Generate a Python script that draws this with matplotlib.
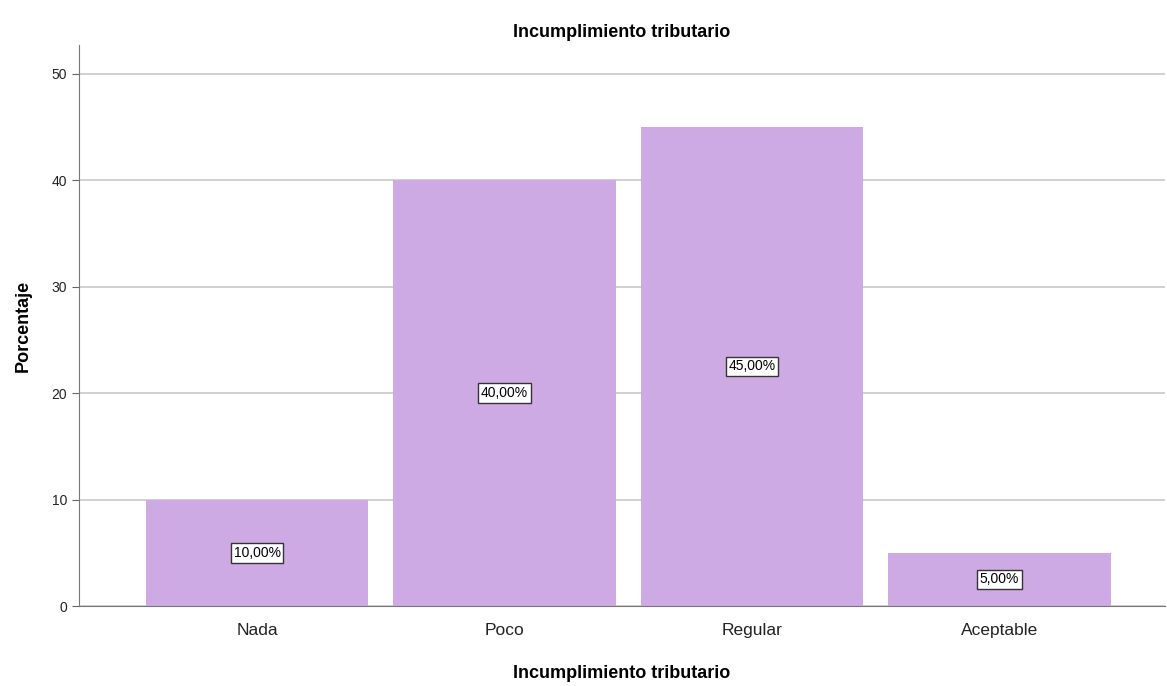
import matplotlib
matplotlib.use("Agg")
import matplotlib.pyplot as plt

categories = ["Nada", "Poco", "Regular", "Aceptable"]
percentages = [10.0, 40.0, 45.0, 5.0]
yticks = [0, 10, 20, 30, 40, 50]

plt.rcParams["font.family"] = ["Liberation Sans", "DejaVu Sans"]

fig = plt.figure(figsize=(11.67, 6.86), dpi=100)
ax = fig.add_axes([79 / 1167, 1 - 606 / 686, (1165 - 79) / 1167, (606 - 45) / 686])

x = range(len(categories))
ax.bar(x, percentages, width=0.9, color="#CEAAE4", zorder=2)

for xi, v in zip(x, percentages):
    label = f"{v:.2f}%".replace(".", ",")
    ax.text(xi, v / 2, label, ha="center", va="center", fontsize=10, zorder=3,
            bbox=dict(boxstyle="square,pad=0.2", fc="white", ec="#333333", lw=1))

ax.set_xlim(-0.72, 3.67)
ax.set_ylim(0, 52.7)
ax.set_yticks(yticks)
ax.set_xticks(list(x))
ax.set_xticklabels(categories, fontsize=12.5, color="#222222")
ax.tick_params(axis="y", labelsize=10, length=5, color="#666666", labelcolor="#222222")
ax.tick_params(axis="x", length=0, pad=12)
ax.yaxis.grid(True, color="#C8C8C8", lw=1.2, zorder=0)

for s in ["top", "right"]:
    ax.spines[s].set_visible(False)
ax.spines["left"].set_color("#777777")
ax.spines["bottom"].set_color("#777777")

ax.set_title("Incumplimiento tributario", fontsize=13, fontweight="bold", pad=6)
ax.set_xlabel("Incumplimiento tributario", fontsize=13, fontweight="bold", labelpad=20)
ax.set_ylabel("Porcentaje", fontsize=13, fontweight="bold", labelpad=14)

fig.savefig("out.png", dpi=100)
